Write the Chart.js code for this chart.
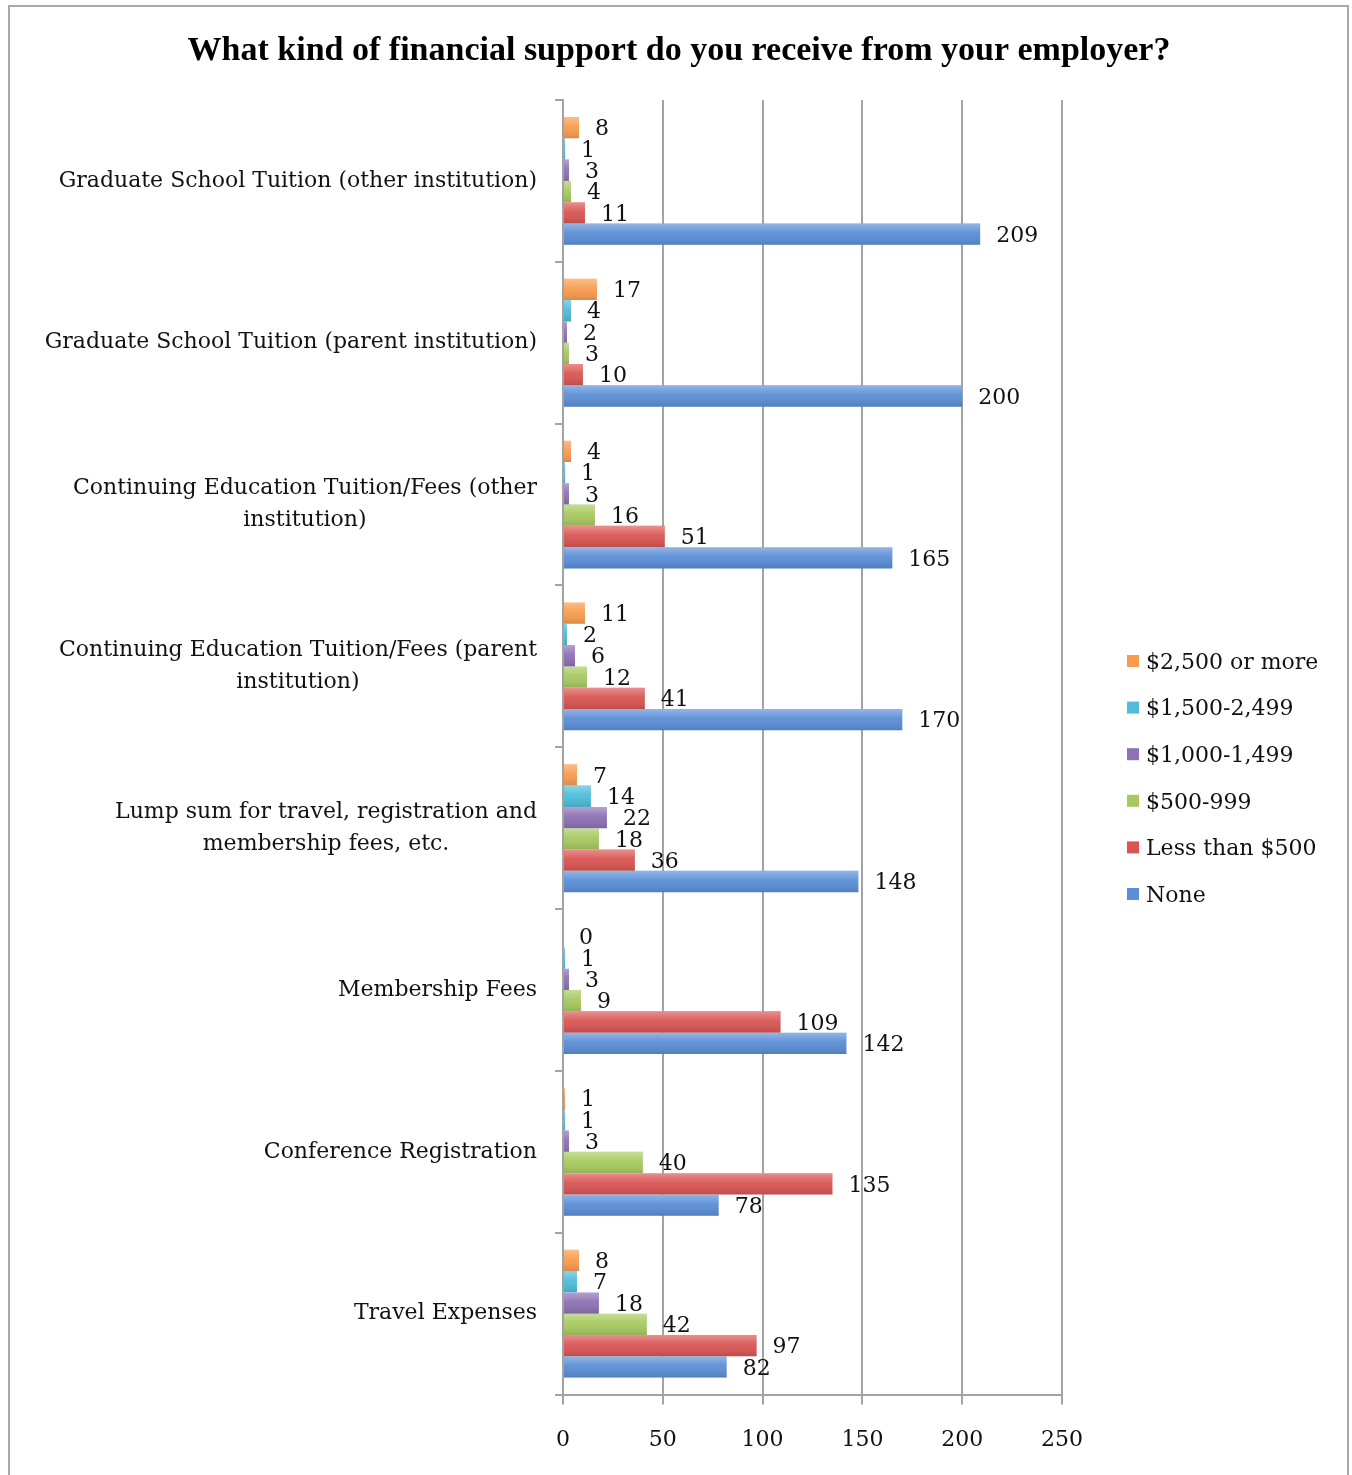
<!DOCTYPE html>
<html>
<head>
<meta charset="utf-8">
<script src="https://cdn.jsdelivr.net/npm/chart.js@4.4.1/dist/chart.umd.min.js"></script>
<style>
  html, body { margin: 0; padding: 0; background: #fff; }
  #frame {
    position: absolute; left: 8px; top: 5px;
    width: 1337px; height: 1480px;
    border: 2px solid #a9a9a9;
  }
  #wrap { position: absolute; left: 10px; top: 7px; width: 1336px; height: 1468px; }
</style>
</head>
<body>
<div id="frame"></div>
<div id="wrap"><canvas id="supportChart"></canvas></div>
<script>
// categories, top to bottom
const categories = [
  ['Graduate School Tuition (other institution)'],
  ['Graduate School Tuition (parent institution)'],
  ['Continuing Education Tuition/Fees (other', 'institution)'],
  ['Continuing Education Tuition/Fees (parent', 'institution)'],
  ['Lump sum for travel, registration and', 'membership fees, etc.'],
  ['Membership Fees'],
  ['Conference Registration'],
  ['Travel Expenses']
];

const seriesNames = ['$2,500 or more', '$1,500-2,499', '$1,000-1,499', '$500-999', 'Less than $500', 'None'];

const over2500   = [8, 17, 4, 11, 7, 0, 1, 8];
const from1500   = [1, 4, 1, 2, 14, 1, 1, 7];
const from1000   = [3, 2, 3, 6, 22, 3, 3, 18];
const from500    = [4, 3, 16, 12, 18, 9, 40, 42];
const under500   = [11, 10, 51, 41, 36, 109, 135, 97];
const none       = [209, 200, 165, 170, 148, 142, 78, 82];

const xTicks = [0, 50, 100, 150, 200, 250];

const titleText = 'What kind of financial support do you receive from your employer?';

const seriesColors = ['#f99b4e', '#4dbdd9', '#8d71b4', '#a7c95f', '#d95553', '#5a8ed6'];

const BODY_FONT = '22px "DejaVu Serif"';

// title, centred on the whole frame
const frameTitle = {
  id: 'frameTitle',
  afterDraw(chart) {
    const ctx = chart.ctx;
    ctx.save();
    ctx.font = 'bold 34px "Liberation Serif"';
    ctx.fillStyle = '#000';
    ctx.textAlign = 'center';
    ctx.textBaseline = 'middle';
    ctx.fillText(titleText, chart.width / 2 + 1, 44);
    ctx.restore();
  }
};

// value labels to the right of every bar
const valueLabels = {
  id: 'valueLabels',
  afterDatasetsDraw(chart) {
    const ctx = chart.ctx;
    ctx.save();
    ctx.font = BODY_FONT;
    ctx.fillStyle = '#111';
    ctx.textAlign = 'left';
    ctx.textBaseline = 'middle';
    chart.data.datasets.forEach((ds, i) => {
      chart.getDatasetMeta(i).data.forEach((bar, j) => {
        ctx.fillText(String(ds.data[j]), bar.x + 16, bar.y + 2);
      });
    });
    ctx.restore();
  }
};

// soft shading over the bars (light top, darker bottom)
const barShade = {
  id: 'barShade',
  afterDatasetsDraw(chart) {
    const ctx = chart.ctx;
    ctx.save();
    chart.data.datasets.forEach((ds, i) => {
      chart.getDatasetMeta(i).data.forEach(bar => {
        const w = bar.x - bar.base;
        if (w <= 0) return;
        const top = bar.y - bar.height / 2;
        const g = ctx.createLinearGradient(0, top, 0, top + bar.height);
        g.addColorStop(0, 'rgba(255,255,255,0.35)');
        g.addColorStop(0.45, 'rgba(255,255,255,0.05)');
        g.addColorStop(1, 'rgba(0,0,0,0.12)');
        ctx.fillStyle = g;
        ctx.fillRect(bar.base, top, w, bar.height);
      });
    });
    ctx.restore();
  }
};

// category labels: right aligned, wrapped lines centred under the first
const categoryLabels = {
  id: 'categoryLabels',
  afterDraw(chart) {
    const ctx = chart.ctx;
    const y = chart.scales.y;
    const right = chart.chartArea.left - 26;
    ctx.save();
    ctx.font = BODY_FONT;
    ctx.fillStyle = '#111';
    ctx.textBaseline = 'middle';
    categories.forEach((lines, i) => {
      const cy = y.getPixelForTick(i);
      const lh = 32;
      const y0 = cy - (lines.length - 1) * lh / 2;
      const mid = right - ctx.measureText(lines[0]).width / 2;
      lines.forEach((line, k) => {
        if (k === 0) {
          ctx.textAlign = 'right';
          ctx.fillText(line, right, y0);
        } else {
          ctx.textAlign = 'center';
          ctx.fillText(line, mid, y0 + k * lh);
        }
      });
    });
    ctx.restore();
  }
};

// legend on the right
const sideLegend = {
  id: 'sideLegend',
  afterDraw(chart) {
    const ctx = chart.ctx;
    const x = chart.chartArea.right + 65;
    const y0 = 656;
    const step = 46.6;
    ctx.save();
    ctx.font = BODY_FONT;
    ctx.textAlign = 'left';
    ctx.textBaseline = 'middle';
    chart.data.datasets.forEach((ds, i) => {
      const cy = y0 + i * step;
      ctx.fillStyle = ds.backgroundColor;
      ctx.fillRect(x, cy - 8, 12, 12);
      ctx.fillStyle = '#111';
      ctx.fillText(ds.label, x + 19, cy);
    });
    ctx.restore();
  }
};

const seriesData = [over2500, from1500, from1000, from500, under500, none];

new Chart(document.getElementById('supportChart'), {
  type: 'bar',
  data: {
    labels: categories.map(c => c.join(' ')),
    datasets: seriesNames.map((name, i) => ({
      label: name,
      data: seriesData[i],
      backgroundColor: seriesColors[i],
      borderWidth: 0,
      categoryPercentage: 0.79,
      barPercentage: 1.0
    }))
  },
  options: {
    indexAxis: 'y',
    responsive: true,
    maintainAspectRatio: false,
    animation: false,
    layout: { padding: { left: 545, right: 284, top: 93, bottom: 0 } },
    plugins: {
      legend: { display: false },
      tooltip: { enabled: false },
      title: { display: false }
    },
    scales: {
      x: {
        min: 0,
        max: 250,
        afterBuildTicks: (axis) => { axis.ticks = xTicks.map(v => ({ value: v })); },
        grid: { color: '#a3a3a3', lineWidth: 2, tickLength: 10 },
        border: { color: '#a3a3a3', width: 2 },
        ticks: {
          color: '#111',
          padding: 22,
          font: { family: '"DejaVu Serif"', size: 22 }
        }
      },
      y: {
        grid: { display: true, drawOnChartArea: false, color: '#a3a3a3', lineWidth: 2, tickLength: 8 },
        border: { color: '#a3a3a3', width: 2 },
        ticks: { display: false }
      }
    }
  },
  plugins: [barShade, valueLabels, categoryLabels, sideLegend, frameTitle]
});
</script>
</body>
</html>
